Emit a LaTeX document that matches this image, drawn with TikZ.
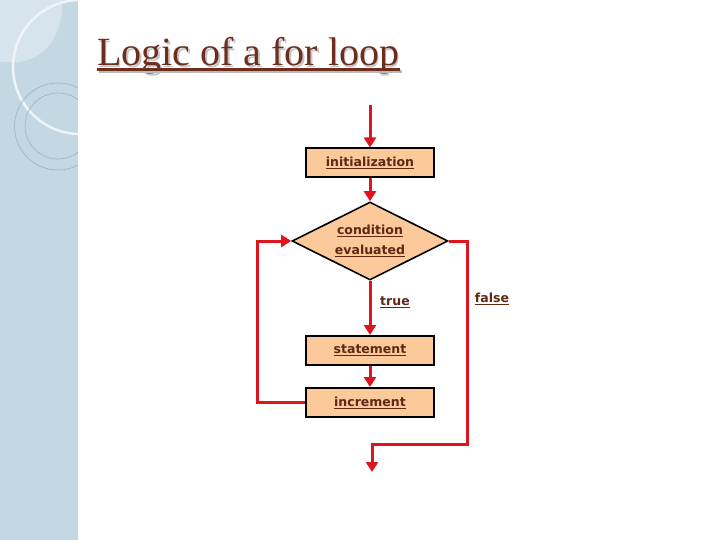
\documentclass[tikz,border=0pt]{standalone}
\usepackage{fontspec}
\setmainfont{Liberation Serif}
\newfontfamily\boxfont{DejaVu Sans}
\usetikzlibrary{arrows.meta,shapes.geometric}
\definecolor{side}{HTML}{C4D8E3}
\definecolor{sidelight}{HTML}{D6E5ED}
\definecolor{arcwhite}{HTML}{EEF4F7}
\definecolor{ringc}{HTML}{9DB5C2}
\definecolor{titlec}{HTML}{6E2E1E}
\definecolor{txt}{HTML}{5E2812}
\definecolor{peach}{HTML}{FBC99A}
\definecolor{flow}{HTML}{E0141C}
\newcommand{\ul}[1]{\underline{#1}}
\begin{document}
\begin{tikzpicture}[x=1pt,y=-1pt,
  boxtxt/.style={font=\boxfont\bfseries\fontsize{12.5}{15}\selectfont,text=txt},
  box/.style={boxtxt,draw=black,line width=2pt,fill=peach,minimum width=128pt,minimum height=29pt,inner sep=0pt},
  dec/.style={boxtxt,diamond,aspect=2,draw=black,line width=1.6pt,fill=peach,minimum width=156pt,minimum height=78pt,inner sep=0pt,align=center},
  flowline/.style={draw=flow,line width=3pt},
  arr/.style={flowline,-{Triangle[width=12pt,length=10pt]}},
  lbl/.style={boxtxt,inner sep=0pt}]
\useasboundingbox (0,0) rectangle (720,540);
\fill[white] (0,0) rectangle (720,540);
% sidebar
\fill[side] (0,0) rectangle (78,540);
\begin{scope}
  \clip (0,0) rectangle (78,540);
  \fill[sidelight] (0,0) -- (62,0) -- (62,12) .. controls (58,40) and (45,58) .. (18,62) -- (0,62) -- cycle;
  \draw[arcwhite,line width=2.5pt] (80,67) circle[radius=67pt];
  \draw[ringc,line width=0.6pt] (58,126.5) circle[radius=43.5pt];
  \draw[ringc,line width=0.6pt] (58,126) circle[radius=33pt];
\end{scope}
% title
\node[anchor=base west,font=\fontsize{40}{48}\selectfont,text=gray!45,inner sep=0pt] (titleshadow) at (98.5,67.5) {Logic of a for loop};
\node[anchor=base west,font=\fontsize{40}{48}\selectfont,text=titlec,inner sep=0pt] (title) at (97,66) {Logic of a for loop};
\draw[gray!55,line width=2.5pt] (98.5,71.5) -- (401.5,71.5);
\draw[titlec,line width=2.5pt] (97,69.5) -- (400,69.5);
% flowchart
\coordinate (start) at (370,105);
\node[box] (init) at (370,163) {\ul{initialization}};
\node[dec] (cond) at (370,241) {\ul{condition}\\[5pt]\ul{evaluated}};
\node[box] (stmt) at (370,350.5) {\ul{statement}};
\node[box] (incr) at (370,402.5) {\ul{increment}};
\coordinate (exit) at (372,472);
\node[lbl] (truelbl) at (395,302) {\ul{true}};
\node[lbl] (falselbl) at (492,299) {\ul{false}};
\draw[arr] (start) -- (init.north);
\draw[arr] (init.south) -- (cond.north);
\draw[arr] (cond.south) -- (stmt.north);
\draw[arr] (stmt.south) -- (incr.north);
\draw[arr] (incr.west) -- ++(-48,0) |- (cond.west);
\draw[arr] (cond.east) -- ++(19,0) -- ++(0,203) -| (exit);
\end{tikzpicture}
\end{document}
